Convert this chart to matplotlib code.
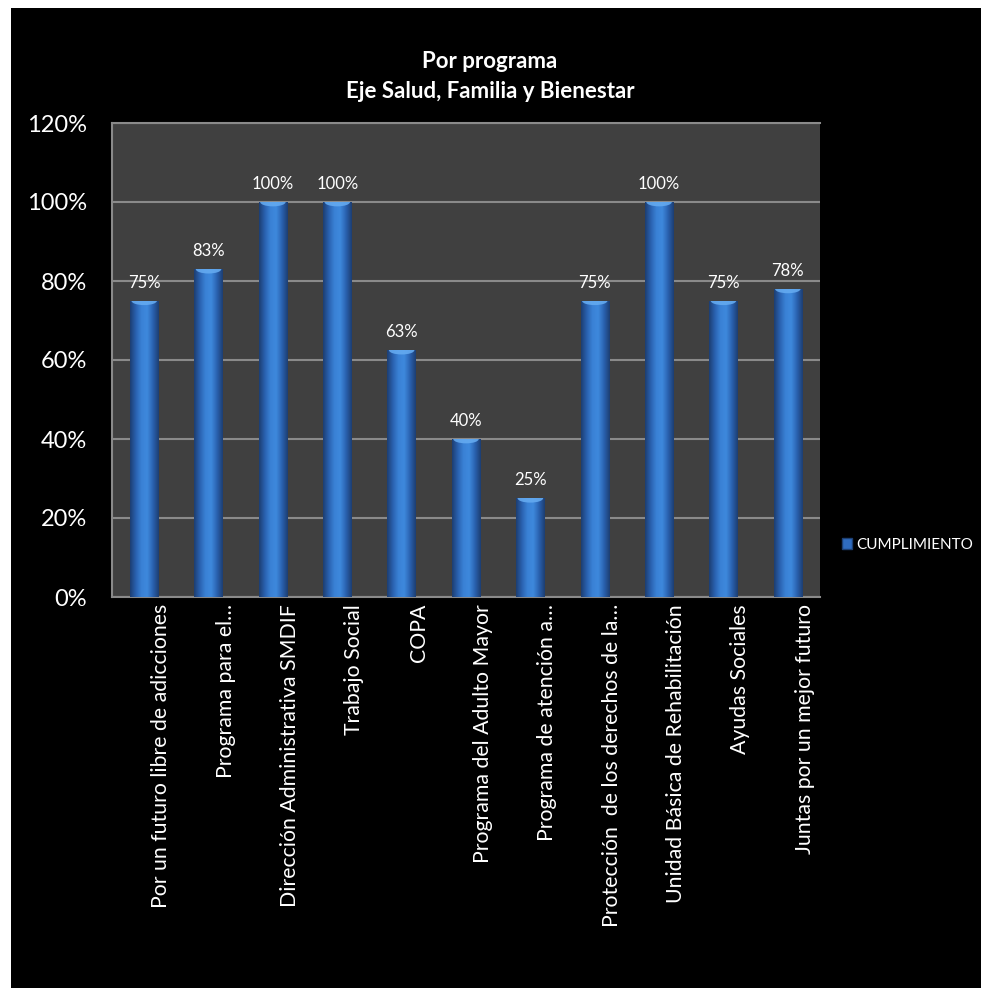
import numpy as np
from matplotlib import pyplot as plt
from matplotlib import transforms
from matplotlib.patches import Rectangle, Patch, Ellipse
from matplotlib.colors import LinearSegmentedColormap

programas = [
    "Por un futuro libre de adicciones",
    "Programa para el…",
    "Dirección Administrativa SMDIF",
    "Trabajo Social",
    "COPA",
    "Programa del Adulto Mayor",
    "Programa de atención a…",
    "Protección  de los derechos de la…",
    "Unidad Básica de Rehabilitación",
    "Ayudas Sociales",
    "Juntas por un mejor futuro",
]
cumplimiento = [0.75, 0.83, 1.00, 1.00, 0.625, 0.40, 0.25, 0.75, 1.00, 0.75, 0.78]
etiquetas = ["75%", "83%", "100%", "100%", "63%", "40%", "25%", "75%", "100%", "75%", "78%"]
y_ticks = [0, 0.2, 0.4, 0.6, 0.8, 1.0, 1.2]

plt.rcParams['font.family'] = ['Lato', 'DejaVu Sans']

W, H = 981, 988
fig = plt.figure(figsize=(W / 100, H / 100), dpi=100, facecolor='black')

# margen blanco arriba e izquierda
fig.patches.append(Rectangle((0, 1 - 8 / H), 1, 8 / H, transform=fig.transFigure,
                             facecolor='white', edgecolor='none'))
fig.patches.append(Rectangle((0, 0), 11 / W, 1, transform=fig.transFigure,
                             facecolor='white', edgecolor='none'))

ax = fig.add_axes([112 / W, 1 - 597 / H, (820 - 112) / W, (597 - 123) / H])
ax.set_facecolor('#404040')

x = np.arange(len(programas))
barras = ax.bar(x, cumplimiento, width=0.44, color='#2f6cc0', zorder=3)

# degradado tipo cilindro
cmap = LinearSegmentedColormap.from_list(
    'cil', ['#1d3f73', '#2a62b0', '#3a82d6', '#3e88dc', '#2a62b0', '#1d3f73'])
grad = np.linspace(0, 1, 64).reshape(1, -1)
for b in barras:
    x0, w, h = b.get_x(), b.get_width(), b.get_height()
    im = ax.imshow(grad, cmap=cmap, aspect='auto', extent=(x0, x0 + w, 0, h),
                   zorder=4, interpolation='bilinear')
    im.set_clip_path(b)
    # tapa superior mas clara
    tapa = Ellipse((x0 + w / 2, h), w * 0.9, 0.022, facecolor='#64aaf0',
                   edgecolor='none', zorder=5, alpha=0.9)
    ax.add_patch(tapa)
    tapa.set_clip_path(b)

for xi, v, t in zip(x, cumplimiento, etiquetas):
    ax.text(xi, v + 0.025, t, ha='center', va='bottom', color='white', fontsize=12)

ax.set_xlim(-0.5, len(programas) - 0.5)
ax.set_ylim(0, 1.2)
ax.set_yticks(y_ticks)
ax.set_yticklabels([f"{int(round(t * 100))}%" for t in y_ticks])
ax.yaxis.grid(True, color='#8a8a8a', linewidth=1.5, zorder=1)
ax.set_axisbelow(True)
ax.set_xticks(x)
ax.set_xticklabels(programas, rotation=90, fontsize=15.3, color='white')
ax.tick_params(axis='y', colors='white', labelsize=17, length=0, pad=18)
ax.tick_params(axis='x', length=0, pad=5)
desplaza = transforms.ScaledTranslation(0.17, 0, fig.dpi_scale_trans)
for lab in ax.get_xticklabels():
    lab.set_transform(lab.get_transform() + desplaza)
for s in ['top', 'left', 'bottom']:
    ax.spines[s].set_color('#8a8a8a')
    ax.spines[s].set_linewidth(1.5)
ax.spines['right'].set_visible(False)

fig.text(490 / W, 1 - 62 / H, "Por programa", ha='center', va='center',
         color='white', fontsize=16, fontweight='bold')
fig.text(490 / W, 1 - 91 / H, "Eje Salud, Familia y Bienestar", ha='center',
         va='center', color='white', fontsize=16, fontweight='bold')

fig.legend(handles=[Patch(facecolor='#2f6cc0', edgecolor='#1d3f73')],
           labels=['CUMPLIMIENTO'], loc='center left',
           bbox_to_anchor=(828 / W, 1 - 545 / H), frameon=False,
           handlelength=0.7, handleheight=0.7, handletextpad=0.25,
           labelcolor='white', fontsize=11)

plt.savefig('out.png', dpi=100, facecolor='black')
